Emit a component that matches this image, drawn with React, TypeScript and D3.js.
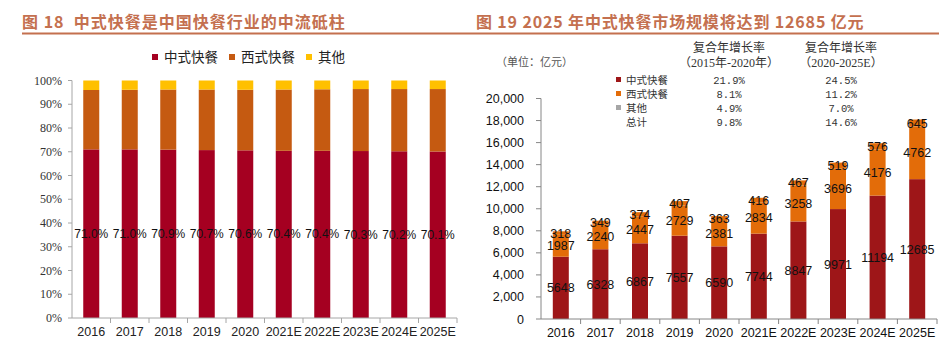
import React from 'react';
import * as d3 from 'd3';

const years = ['2016', '2017', '2018', '2019', '2020', '2021E', '2022E', '2023E', '2024E', '2025E'];
const shareChinese = [71.0, 71.0, 70.9, 70.7, 70.6, 70.4, 70.4, 70.3, 70.2, 70.1];
const shareWestern = [25.0, 25.1, 25.3, 25.5, 25.5, 25.8, 25.9, 26.1, 26.2, 26.3];
const shareOther = [4.0, 3.9, 3.8, 3.8, 3.9, 3.8, 3.7, 3.6, 3.6, 3.6];
const pctTicks = [0, 10, 20, 30, 40, 50, 60, 70, 80, 90, 100];

const valChinese = [5648, 6328, 6867, 7557, 6590, 7744, 8847, 9971, 11194, 12685];
const valWestern = [1987, 2240, 2447, 2729, 2381, 2834, 3258, 3696, 4176, 4762];
const valOther = [318, 349, 374, 407, 363, 416, 467, 519, 576, 645];
const valTicks = [0, 2000, 4000, 6000, 8000, 10000, 12000, 14000, 16000, 18000, 20000];

const seriesNames = ['中式快餐', '西式快餐', '其他'];
const cagrRows = ['中式快餐', '西式快餐', '其他', '总计'];
const cagr1520 = ['21.9%', '8.1%', '4.9%', '9.8%'];
const cagr2025 = ['24.5%', '11.2%', '7.0%', '14.6%'];

const leftColors = ['#A50021', '#C55A11', '#FFC000'];
const rightColors = ['#9E1618', '#E36C09', '#E36C09'];
const rightLegendColors = ['#9E1618', '#E36C09', '#A6A6A6'];
const titleColor = '#C4704F';
const SANS = "'Liberation Sans', Arial, 'Noto Sans CJK SC', sans-serif";
const CJK = "'Noto Sans CJK SC', 'Liberation Sans', sans-serif";
const SERIF = "'Liberation Serif', 'Times New Roman', 'Noto Sans CJK SC', serif";
const MONO = "'Liberation Mono', 'Courier New', monospace";

function LeftChart() {
  const x0 = 72, x1 = 457, yTop = 80.5, yBot = 318;
  const step = (x1 - x0) / years.length;
  const pad = 1 - 16 / step;
  const x = d3.scaleBand<string>().domain(years).range([x0, x1]).paddingInner(pad).paddingOuter(pad / 2);
  const y = d3.scaleLinear().domain([0, 100]).range([yBot, yTop]);
  const stacks = years.map((yr, i) => {
    const vals = [shareChinese[i], shareWestern[i], shareOther[i]];
    let acc = 0;
    return vals.map((v) => {
      const s = { y0: acc, y1: acc + v };
      acc += v;
      return s;
    });
  });
  const legendItems = [
    { x: 155, label: seriesNames[0] },
    { x: 232, label: seriesNames[1] },
    { x: 309, label: seriesNames[2] },
  ];
  return (
    <g>
      <text x={22} y={28} fill={titleColor} fontFamily={CJK} fontWeight="bold" fontSize={16} letterSpacing={1} style={{ whiteSpace: 'pre' }}>
        {'图 18  中式快餐是中国快餐行业的中流砥柱'}
      </text>
      <line x1={22} x2={474} y1={33.5} y2={33.5} stroke={titleColor} strokeWidth={2} />
      {legendItems.map((l, i) => (
        <g key={i}>
          <rect x={l.x - 3} y={54} width={6} height={6} fill={leftColors[i]} />
          <text x={l.x + 9} y={62} fontFamily={CJK} fontSize={13.5} fill="#222">{l.label}</text>
        </g>
      ))}
      {stacks.map((st, i) =>
        st.map((s, j) => (
          <rect key={`${i}-${j}`} x={x(years[i])} width={x.bandwidth()} y={y(s.y1)} height={y(s.y0) - y(s.y1)} fill={leftColors[j]} />
        ))
      )}
      <line x1={x0} x2={x0} y1={yTop} y2={yBot} stroke="#A6A6A6" />
      <line x1={x0} x2={x1} y1={yBot} y2={yBot} stroke="#A6A6A6" />
      {pctTicks.map((t) => (
        <g key={t}>
          <line x1={x0 - 4} x2={x0} y1={y(t)} y2={y(t)} stroke="#A6A6A6" />
          <text x={62} y={y(t) + 4} textAnchor="end" fontFamily={SERIF} fontSize={12} fill="#333">{`${t}%`}</text>
        </g>
      ))}
      {years.map((yr, i) => (
        <line key={yr} x1={x0 + (i + 1) * step} x2={x0 + (i + 1) * step} y1={yBot} y2={yBot + 5} stroke="#A6A6A6" />
      ))}
      {years.map((yr) => (
        <text key={yr} x={(x(yr) as number) + x.bandwidth() / 2} y={336} textAnchor="middle" fontFamily={SANS} fontSize={12.5} fill="#222">{yr}</text>
      ))}
      {stacks.map((st, i) => (
        <text key={i} x={(x(years[i]) as number) + x.bandwidth() / 2} y={y((st[0].y0 + st[0].y1) / 2) + 4} textAnchor="middle" fontFamily={SANS} fontSize={12} fill="#111">
          {`${shareChinese[i].toFixed(1)}%`}
        </text>
      ))}
    </g>
  );
}

function RightChart() {
  const x0 = 541, x1 = 937, yTop = 98.5, yBot = 319;
  const step = (x1 - x0) / years.length;
  const pad = 1 - 16 / step;
  const x = d3.scaleBand<string>().domain(years).range([x0, x1]).paddingInner(pad).paddingOuter(pad / 2);
  const y = d3.scaleLinear().domain([0, 20000]).range([yBot, yTop]);
  const fmt = d3.format(',');
  const stacks = years.map((yr, i) => {
    const vals = [valChinese[i], valWestern[i], valOther[i]];
    let acc = 0;
    return vals.map((v) => {
      const s = { y0: acc, y1: acc + v, v };
      acc += v;
      return s;
    });
  });
  const rowY = [80, 94, 108, 122];
  const c1 = 729, c2 = 841;
  return (
    <g>
      <text x={476} y={28} fill={titleColor} fontFamily={CJK} fontWeight="bold" fontSize={16} letterSpacing={0.85} style={{ whiteSpace: 'pre' }}>
        {'图 19 2025 年中式快餐市场规模将达到 12685 亿元'}
      </text>
      <line x1={474} x2={939} y1={33.5} y2={33.5} stroke={titleColor} strokeWidth={2} />
      <text x={496} y={66} fontFamily={SERIF} fontSize={11} fill="#555">（单位：亿元）</text>
      <text x={c1} y={52} textAnchor="middle" fontFamily={SERIF} fontSize={12} fill="#333">复合年增长率</text>
      <text x={c1} y={67} textAnchor="middle" fontFamily={SERIF} fontSize={12} fill="#333">（2015年-2020年）</text>
      <text x={c2} y={52} textAnchor="middle" fontFamily={SERIF} fontSize={12} fill="#333">复合年增长率</text>
      <text x={c2} y={67} textAnchor="middle" fontFamily={SERIF} fontSize={12} fill="#333">（2020-2025E）</text>
      {cagrRows.map((r, i) => (
        <g key={r}>
          {i < 3 && <rect x={616} y={rowY[i] - 3} width={5} height={5} fill={rightLegendColors[i]} />}
          <text x={626} y={rowY[i] + 4} fontFamily={CJK} fontSize={10.5} fill="#333">{r}</text>
          <text x={c1} y={rowY[i] + 4} textAnchor="middle" fontFamily={MONO} fontSize={10.5} fill="#333">{cagr1520[i]}</text>
          <text x={c2} y={rowY[i] + 4} textAnchor="middle" fontFamily={MONO} fontSize={10.5} fill="#333">{cagr2025[i]}</text>
        </g>
      ))}
      {stacks.map((st, i) =>
        st.map((s, j) => (
          <rect key={`${i}-${j}`} x={x(years[i])} width={x.bandwidth()} y={y(s.y1)} height={y(s.y0) - y(s.y1)} fill={rightColors[j]} />
        ))
      )}
      <line x1={x0} x2={x0} y1={yTop} y2={yBot} stroke="#868686" />
      <line x1={x0} x2={x1} y1={yBot} y2={yBot} stroke="#868686" />
      {valTicks.map((t) => (
        <g key={t}>
          <line x1={x0 - 5} x2={x0} y1={y(t)} y2={y(t)} stroke="#868686" />
          <text x={524} y={y(t) + 4.5} textAnchor="end" fontFamily={SANS} fontSize={12.5} fill="#111">{fmt(t)}</text>
        </g>
      ))}
      {years.map((yr, i) => (
        <line key={yr} x1={x0 + (i + 1) * step} x2={x0 + (i + 1) * step} y1={yBot} y2={yBot + 5} stroke="#868686" />
      ))}
      {years.map((yr) => (
        <text key={yr} x={(x(yr) as number) + x.bandwidth() / 2} y={337} textAnchor="middle" fontFamily={SANS} fontSize={12.5} fill="#111">{yr}</text>
      ))}
      {stacks.map((st, i) =>
        st.map((s, j) => (
          <text key={`${i}-${j}`} x={(x(years[i]) as number) + x.bandwidth() / 2} y={y((s.y0 + s.y1) / 2) + 4.5} textAnchor="middle" fontFamily={SANS} fontSize={12.5} fill="#111">
            {s.v}
          </text>
        ))
      )}
    </g>
  );
}

export default function App() {
  return (
    <svg width={948} height={340} style={{ position: 'absolute', left: 0, top: 0, background: '#fff' }}>
      <rect width={948} height={340} fill="#fff" />
      <LeftChart />
      <RightChart />
    </svg>
  );
}
